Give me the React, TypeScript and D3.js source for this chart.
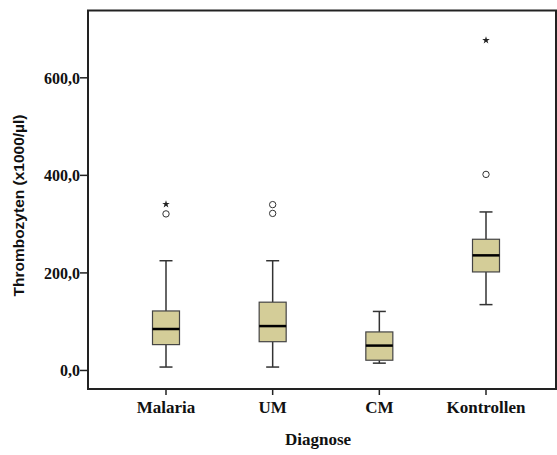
import React from "react";
import * as d3 from "d3";

// Platelet counts per diagnosis group (x1000/µl)
const categories = ["Malaria", "UM", "CM", "Kontrollen"];
const whiskerLow = [7, 7, 15, 135];
const q1 = [53, 59, 21, 202];
const median = [85, 91, 51, 236];
const q3 = [122, 140, 79, 269];
const whiskerHigh = [225, 225, 121, 325];
// mild outliers (circles) and extreme outliers (stars)
const outlierCircles = [[321], [322, 340], [], [402]];
const outlierStars = [[341], [], [], [677]];
const yTicks = [0, 200, 400, 600];

const W = 557;
const H = 455;
const plot = { left: 88, right: 556, top: 10.5, bottom: 389 };

const fmt = d3.formatLocale({ decimal: ",", thousands: ".", grouping: [3], currency: ["", "€"] }).format(".1f");

export default function App() {
  const x = d3.scalePoint<string>().domain(categories).range([166, 486]);
  const y = d3.scaleLinear().domain([-38, 738]).range([plot.bottom, plot.top]);
  const boxW = 27;
  const capW = 13;
  const star = d3.symbol().type(d3.symbolStar).size(18)();
  const serif = "'Liberation Serif', 'Times New Roman', serif";
  const sans = "'Liberation Sans', Arial, sans-serif";

  return (
    <svg width={W} height={H} style={{ position: "absolute", left: 0, top: 0, background: "#fff" }}>
      {/* y axis ticks */}
      {yTicks.map((t) => (
        <g key={t}>
          <line x1={plot.left - 8} x2={plot.left} y1={y(t)} y2={y(t)} stroke="#222" strokeWidth={1.5} />
          <text x={plot.left - 8} y={y(t)} dy="0.36em" textAnchor="end" fontFamily={serif} fontWeight="bold" fontSize={16} fill="#111">
            {fmt(t)}
          </text>
        </g>
      ))}
      {/* x axis ticks */}
      {categories.map((c) => (
        <g key={c}>
          <line x1={x(c)} x2={x(c)} y1={plot.bottom} y2={plot.bottom + 6} stroke="#222" strokeWidth={1.5} />
          <text x={x(c)} y={413} textAnchor="middle" fontFamily={serif} fontWeight="bold" fontSize={17} fill="#111">
            {c}
          </text>
        </g>
      ))}
      {/* boxes */}
      {categories.map((c, i) => {
        const cx = x(c)!;
        return (
          <g key={c}>
            <line x1={cx} x2={cx} y1={y(whiskerHigh[i])} y2={y(q3[i])} stroke="#333" strokeWidth={1.5} />
            <line x1={cx} x2={cx} y1={y(q1[i])} y2={y(whiskerLow[i])} stroke="#333" strokeWidth={1.5} />
            <line x1={cx - capW / 2} x2={cx + capW / 2} y1={y(whiskerHigh[i])} y2={y(whiskerHigh[i])} stroke="#333" strokeWidth={1.5} />
            <line x1={cx - capW / 2} x2={cx + capW / 2} y1={y(whiskerLow[i])} y2={y(whiskerLow[i])} stroke="#333" strokeWidth={1.5} />
            <rect x={cx - boxW / 2} y={y(q3[i])} width={boxW} height={y(q1[i]) - y(q3[i])} fill="#d4cd98" stroke="#444" strokeWidth={1.2} />
            <line x1={cx - boxW / 2} x2={cx + boxW / 2} y1={y(median[i])} y2={y(median[i])} stroke="#000" strokeWidth={2.5} />
            {outlierCircles[i].map((v, j) => (
              <circle key={"c" + j} cx={cx} cy={y(v)} r={3.2} fill="none" stroke="#333" strokeWidth={1} />
            ))}
            {outlierStars[i].map((v, j) => (
              <path key={"s" + j} d={star!} transform={`translate(${cx},${y(v)})`} fill="#222" />
            ))}
          </g>
        );
      })}
      {/* frame */}
      <rect x={plot.left} y={plot.top} width={plot.right - plot.left} height={plot.bottom - plot.top} fill="none" stroke="#222" strokeWidth={2} />
      {/* axis titles */}
      <text x={318} y={445} textAnchor="middle" fontFamily={serif} fontWeight="bold" fontSize={17} fill="#111">
        Diagnose
      </text>
      <text transform="translate(24,205.5) rotate(-90)" textAnchor="middle" fontFamily={sans} fontWeight="bold" fontSize={15.5} fill="#111">
        Thrombozyten (x1000/µl)
      </text>
    </svg>
  );
}
